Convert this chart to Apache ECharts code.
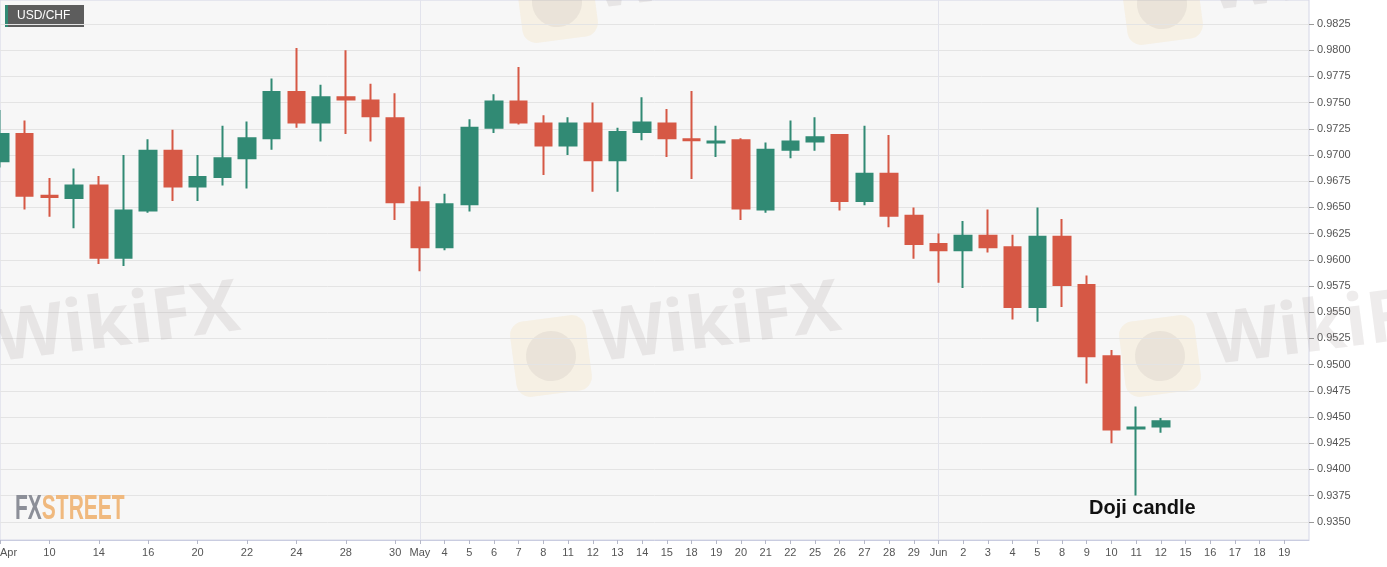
<!DOCTYPE html>
<html>
<head>
<meta charset="utf-8">
<title>USD/CHF</title>
<script src="https://cdn.jsdelivr.net/npm/echarts@6/dist/echarts.min.js"></script>
<style>
    html, body { margin: 0; padding: 0; background: #fff; }
    #main { width: 1387px; height: 567px; }
</style>
</head>
<body>
<div id="main"></div>
<script>
// trading days, Apr 8 - Jun 12 2020, then empty days to the right edge
var dates = [
    '04-08', '04-09', '04-10', '04-13', '04-14', '04-15', '04-16', '04-17', '04-20', '04-21',
    '04-22', '04-23', '04-24', '04-27', '04-28', '04-29', '04-30',
    '05-01', '05-04', '05-05', '05-06', '05-07', '05-08', '05-11', '05-12', '05-13', '05-14',
    '05-15', '05-18', '05-19', '05-20', '05-21', '05-22', '05-25', '05-26', '05-27', '05-28', '05-29',
    '06-01', '06-02', '06-03', '06-04', '06-05', '06-08', '06-09', '06-10', '06-11', '06-12',
    '06-15', '06-16', '06-17', '06-18', '06-19', '06-22'
];
var tickLabels = [
    'Apr', '9', '10', '13', '14', '15', '16', '17', '20', '21',
    '22', '23', '24', '27', '28', '29', '30',
    'May', '4', '5', '6', '7', '8', '11', '12', '13', '14',
    '15', '18', '19', '20', '21', '22', '25', '26', '27', '28', '29',
    'Jun', '2', '3', '4', '5', '8', '9', '10', '11', '12',
    '15', '16', '17', '18', '19', ''
];

var opens = [
    0.9694, 0.9720, 0.9661, 0.9659, 0.9671, 0.9602, 0.9647, 0.9704, 0.9670, 0.9679,
    0.9697, 0.9716, 0.9760, 0.9731, 0.9755, 0.9752, 0.9735,
    0.9655, 0.9612, 0.9653, 0.9726, 0.9751, 0.9730, 0.9709, 0.9730, 0.9695, 0.9722,
    0.9730, 0.9715, 0.9712, 0.9714, 0.9648, 0.9705, 0.9713, 0.9719, 0.9656, 0.9682, 0.9642,
    0.9615, 0.9609, 0.9623, 0.9612, 0.9555, 0.9622, 0.9576, 0.9508, 0.9439, 0.9441
];
var closes = [
    0.9720, 0.9661, 0.9660, 0.9671, 0.9602, 0.9647, 0.9704, 0.9670, 0.9679, 0.9697,
    0.9716, 0.9760, 0.9731, 0.9755, 0.9753, 0.9737, 0.9655,
    0.9612, 0.9653, 0.9726, 0.9751, 0.9731, 0.9709, 0.9730, 0.9695, 0.9722, 0.9731,
    0.9716, 0.9714, 0.9713, 0.9649, 0.9705, 0.9713, 0.9717, 0.9656, 0.9682, 0.9642, 0.9615,
    0.9609, 0.9623, 0.9612, 0.9555, 0.9622, 0.9576, 0.9508, 0.9438, 0.9440, 0.9446
];
var lows = [
    0.9688, 0.9648, 0.9641, 0.9630, 0.9596, 0.9594, 0.9645, 0.9656, 0.9656, 0.9671,
    0.9668, 0.9705, 0.9726, 0.9713, 0.9720, 0.9713, 0.9638,
    0.9589, 0.9609, 0.9646, 0.9721, 0.9729, 0.9681, 0.9700, 0.9665, 0.9665, 0.9714,
    0.9698, 0.9677, 0.9698, 0.9638, 0.9645, 0.9697, 0.9704, 0.9647, 0.9652, 0.9631, 0.9601,
    0.9578, 0.9573, 0.9607, 0.9543, 0.9541, 0.9555, 0.9482, 0.9425, 0.9375, 0.9435
];
var highs = [
    0.9743, 0.9733, 0.9678, 0.9687, 0.9680, 0.9700, 0.9715, 0.9724, 0.9700, 0.9728,
    0.9732, 0.9773, 0.9802, 0.9767, 0.9800, 0.9768, 0.9759,
    0.9670, 0.9663, 0.9734, 0.9758, 0.9784, 0.9738, 0.9736, 0.9750, 0.9726, 0.9755,
    0.9744, 0.9761, 0.9728, 0.9716, 0.9712, 0.9733, 0.9736, 0.9720, 0.9728, 0.9719, 0.9650,
    0.9625, 0.9637, 0.9648, 0.9624, 0.9650, 0.9639, 0.9585, 0.9514, 0.9460, 0.9449
];

var upColor = '#318a74';
var downColor = '#d65845';

var candles = [];
for (var i = 0; i < opens.length; i++)
    candles.push([opens[i], closes[i], lows[i], highs[i]]);

var myChart = echarts.init(document.getElementById('main'), null, { renderer: 'canvas' });

var wmText = function (x, y) {
    return {
        type: 'text', x: x, y: y, rotation: 0.13, z: 1, silent: true,
        style: {
            text: 'WikiFX', font: 'bold 72px "Open Sans", sans-serif',
            fill: 'rgba(150,135,135,0.16)', align: 'center', verticalAlign: 'middle'
        }
    };
};
var wmIcon = function (x, y) {
    return {
        type: 'group', x: x, y: y, rotation: 0.13, z: 1, silent: true,
        children: [
            { type: 'rect', shape: { x: -38, y: -38, width: 76, height: 76, r: 14 },
              style: { fill: 'rgba(240,200,110,0.14)' } },
            { type: 'circle', shape: { cx: 0, cy: 0, r: 25 },
              style: { fill: 'rgba(140,130,130,0.11)' } }
        ]
    };
};

var option = {
    animation: false,
    backgroundColor: '#fff',
    grid: [
        {   // frame: background, border, date axis
            left: 0, top: 0, width: 1309, height: 540,
            show: true, backgroundColor: '#f7f7f7',
            borderColor: '#d4d6e6', borderWidth: 1,
            containLabel: false, outerBoundsMode: 'none'
        },
        {   // price grid, stretched so 0.9825 / 0.9350 land where they should
            left: 0, top: -2.2, width: 1309, height: 550.2,
            show: false, containLabel: false, outerBoundsMode: 'none'
        }
    ],
    xAxis: [
        {
            gridIndex: 0,
            type: 'category',
            data: dates,
            boundaryGap: false,
            axisLine: { lineStyle: { color: '#c9cce0' } },
            axisTick: { length: 4, lineStyle: { color: '#b5b8c8' } },
            axisLabel: {
                color: '#555',
                fontFamily: 'Liberation Sans, Arial, sans-serif',
                fontSize: 11,
                margin: 7,
                alignMinLabel: 'left',
                interval: function (index) {
                    return index < 53 && (index >= 16 || index % 2 === 0);
                },
                formatter: function (value, index) {
                    return tickLabels[index];
                }
            },
            splitLine: {
                show: true,
                interval: function (index) { return index === 17 || index === 38; },
                lineStyle: { color: '#e2e3ec', width: 1 }
            }
        },
        {
            gridIndex: 1,
            type: 'category',
            data: dates,
            boundaryGap: false,
            show: false
        }
    ],
    yAxis: [
        {
            gridIndex: 0, type: 'value', min: 0, max: 1, show: false
        },
        {
            gridIndex: 1,
            type: 'value',
            position: 'right',
            min: 0.9325,
            max: 0.9850,
            interval: 0.0025,
            axisLine: { show: false },
            axisTick: { show: true, length: 5, lineStyle: { color: '#9a9a9a' } },
            axisLabel: {
                color: '#555',
                fontFamily: 'Liberation Sans, Arial, sans-serif',
                fontSize: 11,
                margin: 8,
                showMinLabel: false,
                showMaxLabel: false,
                formatter: function (v) { return v.toFixed(4); }
            },
            splitLine: {
                show: true,
                showMinLine: false,
                showMaxLine: false,
                lineStyle: { color: '#e4e4e4', width: 1 }
            }
        }
    ],
    series: [
        {
            name: 'USD/CHF',
            type: 'candlestick',
            xAxisIndex: 1,
            yAxisIndex: 1,
            barWidth: 17,
            clip: true,
            itemStyle: {
                color: upColor,
                color0: downColor,
                borderColor: upColor,
                borderColor0: downColor,
                borderWidth: 2
            },
            data: candles
        }
    ],
    graphic: [
        wmText(117, 325), wmText(718, 325), wmText(1332, 328),
        wmText(715, -28), wmText(1330, -26),
        wmIcon(551, 356), wmIcon(1160, 356), wmIcon(557, 2), wmIcon(1162, 4),
        {
            type: 'group', x: 5, y: 5, z: 20,
            children: [
                { type: 'rect', shape: { x: 0, y: 0, width: 79, height: 22 },
                  style: { fill: '#5d5d5d' } },
                { type: 'rect', shape: { x: 0, y: 0, width: 3, height: 22 },
                  style: { fill: upColor } },
                { type: 'text', x: 12, y: 11,
                  style: { text: 'USD/CHF', fill: '#fff', font: '12px "Liberation Sans", Arial, sans-serif',
                           verticalAlign: 'middle' } }
            ]
        },
        {
            type: 'text', x: 1089, y: 508, z: 20,
            style: { text: 'Doji candle', fill: '#111', font: 'bold 20px "Liberation Sans", Arial, sans-serif',
                     verticalAlign: 'middle' }
        },
        {
            type: 'text', x: 15, y: 509, z: 20, scaleX: 0.6,
            style: {
                text: '{a|FX}{b|STREET}', verticalAlign: 'middle',
                rich: {
                    a: { fill: '#8c8f98', font: 'bold 35px "Liberation Sans", Arial, sans-serif' },
                    b: { fill: '#f0b97e', font: 'bold 35px "Liberation Sans", Arial, sans-serif' }
                }
            }
        },
        {   // hide the stray tick of the hidden 0.9325 line below the frame
            type: 'rect', z: 30, shape: { x: 1310, y: 541, width: 20, height: 12 },
            style: { fill: '#fff' }
        }
    ]
};

myChart.setOption(option);
</script>
</body>
</html>
